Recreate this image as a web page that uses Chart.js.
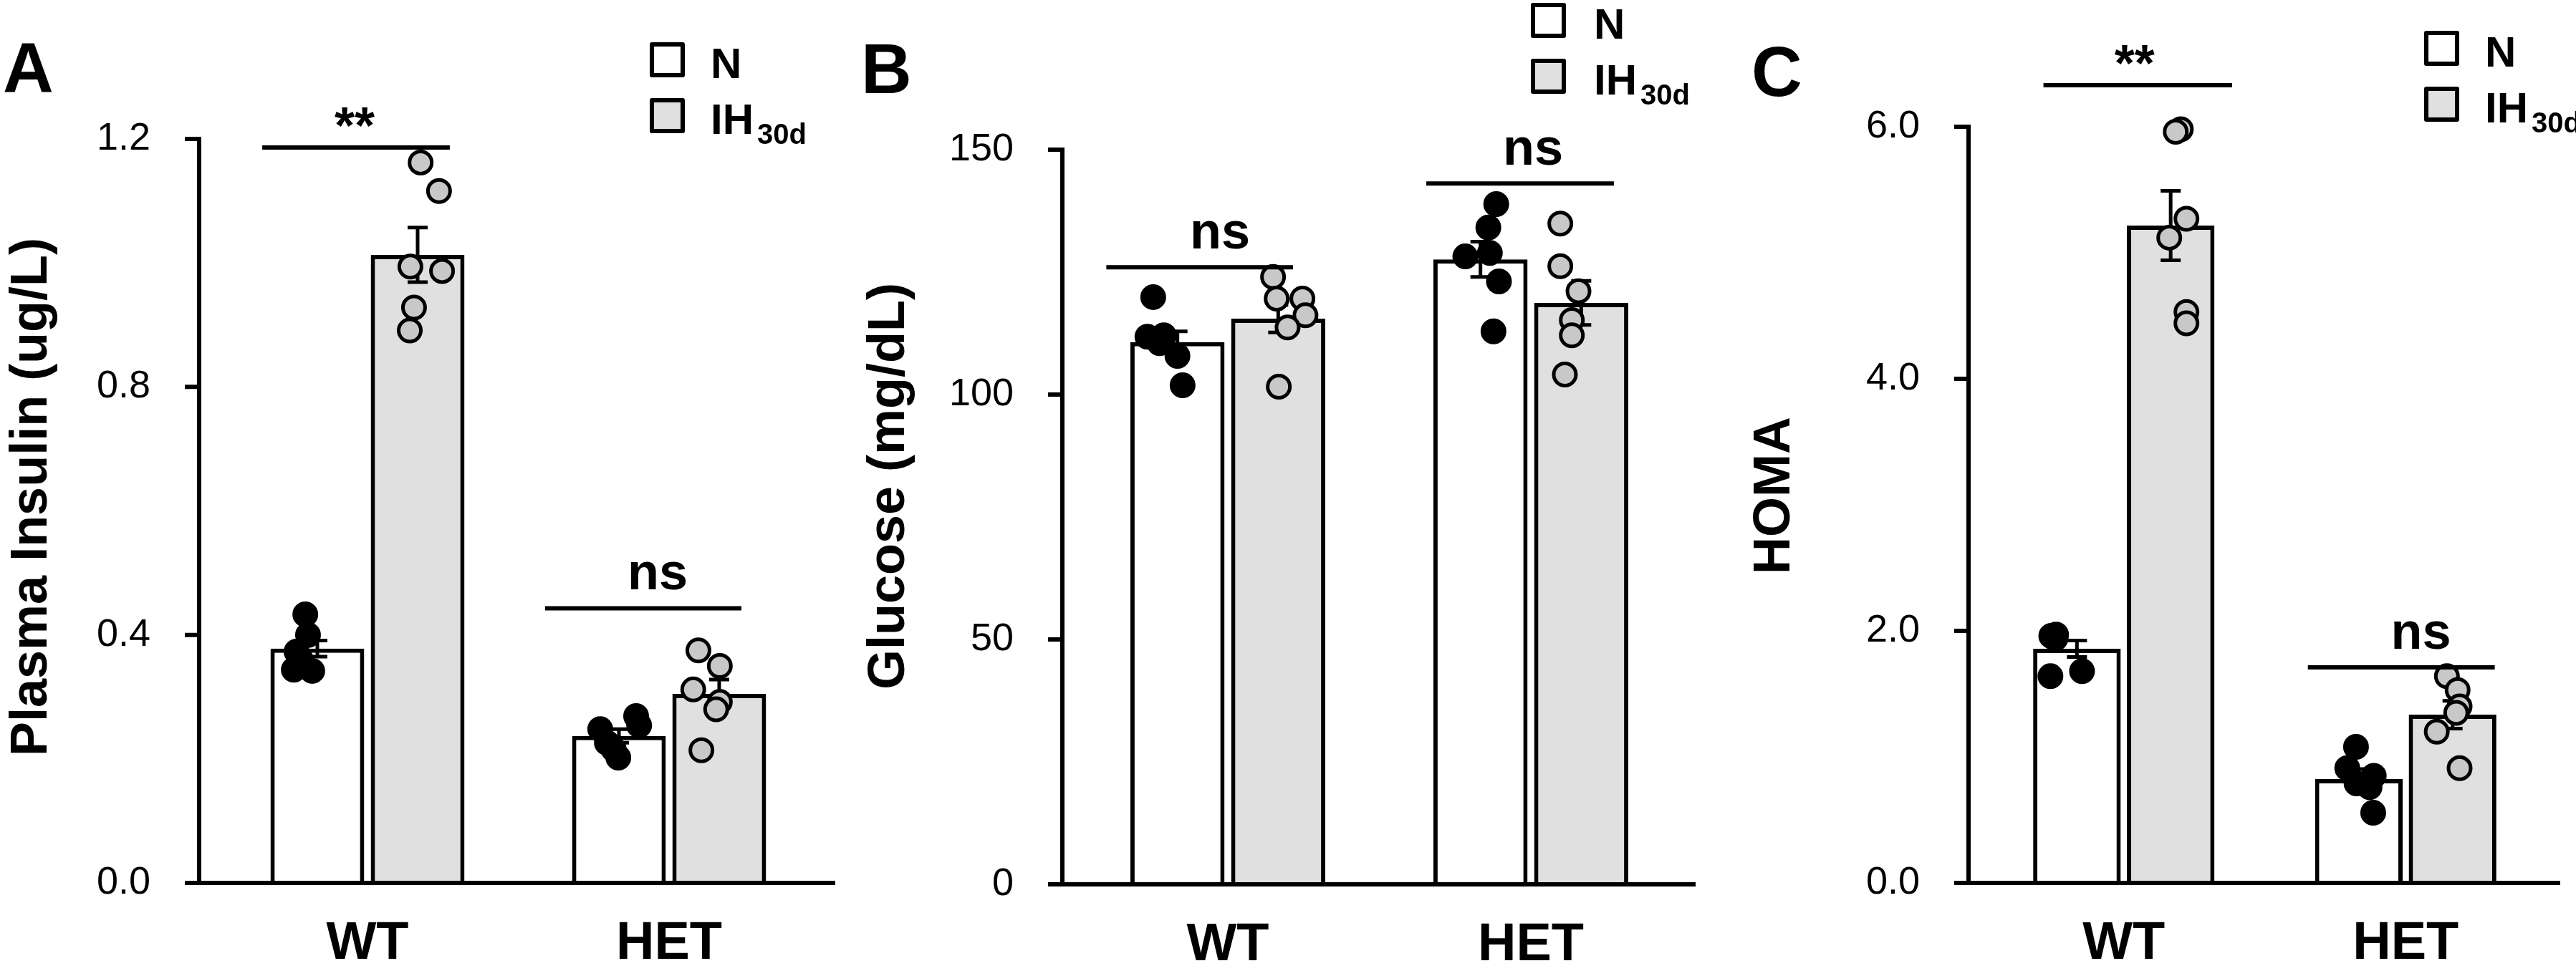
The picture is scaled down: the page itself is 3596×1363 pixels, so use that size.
<!DOCTYPE html>
<html>
<head>
<meta charset="utf-8">
<script src="https://cdn.jsdelivr.net/npm/chart.js@4.4.1/dist/chart.umd.min.js"></script>
<style>
  html, body { margin: 0; padding: 0; background: #fff; }
  #wrap { position: relative; width: 3596px; height: 1363px; background: #fff; overflow: hidden; }
  .panel { position: absolute; top: 0; height: 1363px; }
</style>
</head>
<body>
<div id="wrap">
  <div class="panel" style="left:0;width:1200px"><canvas id="chartA"></canvas></div>
  <div class="panel" style="left:1200px;width:1200px"><canvas id="chartB"></canvas></div>
  <div class="panel" style="left:2400px;width:1196px"><canvas id="chartC"></canvas></div>
</div>
<script>
const groups = ['WT', 'HET'];
const seriesNames = ['N', 'IH'];
const seriesSub = ['', '30d'];
const seriesFill = ['#ffffff', '#e0e0e0'];
const pointFill = ['#000000', '#c8c8c8'];

// A - plasma insulin (ug/L)
const insulinMeanN = [0.378, 0.237];
const insulinMeanIH = [1.013, 0.305];
const insulinSemN = [0.013, 0.011];
const insulinSemIH = [0.044, 0.023];
const insulinN = [[0.433, 0.400, 0.373, 0.344, 0.342, 0.360], [0.248, 0.269, 0.254, 0.226, 0.202, 0.215]];
const insulinIH = [[1.162, 1.116, 0.994, 0.987, 0.928, 0.891], [0.375, 0.350, 0.312, 0.292, 0.280, 0.214]];
const insulinJitN = [[-0.040, -0.031, -0.069, -0.078, -0.017, -0.055], [-0.062, 0.057, 0.067, -0.040, -0.002, -0.017]];
const insulinJitIH = [[0.010, 0.071, -0.024, 0.081, -0.012, -0.026], [-0.069, 0.002, -0.086, 0.002, -0.010, -0.059]];
const insulinTicks = [0, 0.4, 0.8, 1.2];
const insulinSig = [
  { text: '**', y: 1.186, from: -0.349, to: 0.273, at: -0.043 },
  { text: 'ns', y: 0.443, from: 0.589, to: 1.240, at: 0.962 }
];

// B - glucose (mg/dL)
const glucoseMeanN = [110.7, 127.6];
const glucoseMeanIH = [115.5, 118.7];
const glucoseSemN = [2.2, 3.6];
const glucoseSemIH = [2.8, 4.5];
const glucoseN = [[119.9, 111.8, 112.1, 107.9, 101.9, 110.5], [138.9, 134.1, 128.9, 128.2, 123.1, 112.9]];
const glucoseIH = [[124.0, 119.6, 119.6, 116.2, 113.7, 101.6], [134.9, 126.2, 121.1, 115.2, 112.1, 104.1]];
const glucoseJitN = [[-0.080, -0.099, -0.045, 0.000, 0.017, -0.059], [0.052, 0.026, 0.031, -0.050, 0.061, 0.043]];
const glucoseJitIH = [[-0.017, -0.005, 0.080, 0.090, 0.031, 0.002], [-0.069, -0.069, -0.009, -0.031, -0.031, -0.054]];
const glucoseTicks = [0, 50, 100, 150];
const glucoseSig = [
  { text: 'ns', y: 126.0, from: -0.401, to: 0.215, at: -0.026 },
  { text: 'ns', y: 143.1, from: 0.655, to: 1.274, at: 1.007 }
];

// C - HOMA
const homaMeanN = [1.858, 0.824];
const homaMeanIH = [5.216, 1.335];
const homaSemN = [0.065, 0.08];
const homaSemIH = [0.275, 0.11];
const homaN = [[1.97, 1.96, 1.95, 1.94, 1.64, 1.68], [1.08, 0.91, 0.85, 0.79, 0.557, 0.76]];
const homaIH = [[5.98, 5.96, 5.27, 5.12, 4.53, 4.44], [1.64, 1.53, 1.40, 1.35, 1.20, 0.91]];
const homaJitN = [[-0.074, -0.091, -0.084, -0.076, -0.094, 0.018], [-0.010, -0.041, 0.053, -0.008, 0.051, 0.038]];
const homaJitIH = [[0.036, 0.018, 0.056, -0.005, 0.056, 0.056], [-0.020, 0.018, 0.025, 0.013, -0.056, 0.025]];
const homaTicks = [0, 2, 4, 6];
const homaSig = [
  { text: '**', y: 6.33, from: -0.285, to: 0.384, at: 0.038 },
  { text: 'ns', y: 1.71, from: 0.653, to: 1.316, at: 1.054 }
];

const FONT = '"Liberation Sans", Arial, Helvetica, sans-serif';
const CAT_PCT = 0.665;
const BAR_PCT = 0.935;

function decor(p) {
  return {
    id: 'decor',
    afterDatasetDraw(chart, args) {
      const ds = chart.data.datasets[args.index];
      if (ds.type !== 'bar') return;
      const ys = chart.scales.y;
      const ctx = chart.ctx;
      ctx.save();
      ctx.strokeStyle = '#000';
      ctx.lineWidth = 5;
      args.meta.data.forEach((bar, j) => {
        const m = ds.data[j].y;
        const hi = ys.getPixelForValue(m + ds.sem[j]);
        const lo = ys.getPixelForValue(m - ds.sem[j]);
        ctx.beginPath();
        ctx.moveTo(bar.x, hi); ctx.lineTo(bar.x, lo);
        ctx.moveTo(bar.x - 14, hi); ctx.lineTo(bar.x + 14, hi);
        ctx.moveTo(bar.x - 14, lo); ctx.lineTo(bar.x + 14, lo);
        ctx.stroke();
      });
      ctx.restore();
    },
    afterDatasetsDraw(chart) {
      const ctx = chart.ctx;
      const ys = chart.scales.y;
      const xs = chart.scales.x2;
      const area = chart.chartArea;
      const ax = area.left - p.axisInset;
      const y0 = ys.getPixelForValue(0);
      const yTop = ys.getPixelForValue(ys.max);
      ctx.save();
      ctx.strokeStyle = '#000';
      ctx.fillStyle = '#000';
      ctx.lineWidth = 6;
      ctx.lineCap = 'butt';
      // axes
      ctx.beginPath();
      ctx.moveTo(ax, yTop - 3); ctx.lineTo(ax, y0);
      ys.ticks.forEach(t => {
        const py = ys.getPixelForValue(t.value);
        ctx.moveTo(ax - 20, py); ctx.lineTo(ax + 3, py);
      });
      ctx.moveTo(ax - 20, y0); ctx.lineTo(area.right + p.rightExt, y0);
      ctx.stroke();

      // significance bars
      p.sig.forEach(s => {
        const py = ys.getPixelForValue(s.y);
        ctx.beginPath();
        ctx.moveTo(xs.getPixelForValue(s.from), py);
        ctx.lineTo(xs.getPixelForValue(s.to), py);
        ctx.stroke();
        ctx.font = `bold 72px ${FONT}`;
        ctx.textAlign = 'center';
        ctx.textBaseline = 'alphabetic';
        ctx.fillText(s.text, xs.getPixelForValue(s.at), py - (s.text === '**' ? 6 : 26));
      });

      // legend
      ctx.lineJoin = 'round';
      seriesNames.forEach((name, k) => {
        const top = p.legTop + k * 78;
        ctx.fillStyle = seriesFill[k];
        ctx.fillRect(p.legX + 3, top + 3, 43, 43);
        ctx.strokeRect(p.legX + 3, top + 3, 43, 43);
        ctx.fillStyle = '#000';
        ctx.textAlign = 'left';
        ctx.textBaseline = 'alphabetic';
        ctx.font = `bold 60px ${FONT}`;
        ctx.fillText(name, p.legTextX, top + 50);
        if (seriesSub[k]) {
          const w = ctx.measureText(name).width;
          ctx.font = `bold 40px ${FONT}`;
          ctx.fillText(seriesSub[k], p.legTextX + w + 5, top + 64);
        }
      });

      // y title
      ctx.save();
      ctx.translate(p.titleX, p.titleY);
      ctx.rotate(-Math.PI / 2);
      ctx.textAlign = 'center';
      ctx.textBaseline = 'middle';
      ctx.font = `bold 72px ${FONT}`;
      ctx.fillText(p.title, 0, 0);
      ctx.restore();

      // panel letter
      ctx.font = `bold 98px ${FONT}`;
      ctx.textAlign = 'left';
      ctx.textBaseline = 'alphabetic';
      ctx.fillText(p.letter, p.letterX, p.letterBase);
      ctx.restore();
    }
  };
}

function makePanel(id, p) {
  const half = CAT_PCT / 4;
  const slot = k => (k === 0 ? -half : half);
  const bars = (label, means, sem, k) => ({
    type: 'bar', label, sem, order: 2, xAxisID: 'x2', yAxisID: 'y',
    data: means.map((m, gi) => ({ x: gi + slot(k), y: m })),
    backgroundColor: seriesFill[k], borderColor: '#000', borderWidth: 6,
    grouped: false, categoryPercentage: 1, barPercentage: BAR_PCT
  });
  const dots = (pts, jit, k) => ({
    type: 'scatter', xAxisID: 'x2', yAxisID: 'y', order: 1, clip: false,
    data: pts.flatMap((g, gi) => g.map((v, n) => ({ x: gi + slot(k) + jit[gi][n], y: v }))),
    pointRadius: 15.5, pointHoverRadius: 15.5, pointBorderWidth: 5,
    pointBackgroundColor: pointFill[k], pointBorderColor: '#000'
  });
  new Chart(document.getElementById(id), {
    type: 'bar',
    data: {
      labels: groups,
      datasets: [
        bars(seriesNames[0], p.meanN, p.semN, 0),
        bars(seriesNames[1], p.meanIH, p.semIH, 1),
        dots(p.ptsN, p.jitN, 0),
        dots(p.ptsIH, p.jitIH, 1)
      ]
    },
    options: {
      responsive: true,
      maintainAspectRatio: false,
      animation: false,
      events: [],
      layout: { padding: { top: p.top, right: p.padRight, bottom: 0, left: 0 } },
      plugins: { legend: { display: false }, tooltip: { enabled: false } },
      scales: {
        x: {
          type: 'category', offset: true,
          grid: { display: false, drawTicks: false }, border: { display: false },
          ticks: { color: '#000', font: { family: FONT, size: 74, weight: 'bold' }, padding: 41, maxRotation: 0 },
          afterFit: s => { s.height = 1363 - p.bottom; }
        },
        x2: {
          type: 'linear', min: -0.5, max: 1.5, offset: false, display: false,
          afterBuildTicks: s => { s.ticks = [{ value: -0.5 }, { value: 1.5 }]; }
        },
        y: {
          min: 0, max: p.ticks[p.ticks.length - 1],
          afterBuildTicks: s => { s.ticks = p.ticks.map(v => ({ value: v })); },
          grid: { display: false, drawTicks: false }, border: { display: false },
          ticks: { color: '#000', font: { family: FONT, size: 54 }, padding: p.axisInset + 68, callback: p.fmt },
          afterFit: s => { s.width = p.left; }
        }
      }
    },
    plugins: [decor(p)]
  });
}

makePanel('chartA', {
  meanN: insulinMeanN, meanIH: insulinMeanIH, semN: insulinSemN, semIH: insulinSemIH,
  ptsN: insulinN, ptsIH: insulinIH, jitN: insulinJitN, jitIH: insulinJitIH,
  ticks: insulinTicks, sig: insulinSig, fmt: v => v.toFixed(1),
  title: 'Plasma Insulin (ug/L)', letter: 'A',
  left: 302.5, padRight: 55.5, top: 194, bottom: 1233, axisInset: 24.5, rightExt: 21.5,
  titleX: 45, titleY: 694, letterX: 4, letterBase: 128,
  legX: 907, legTop: 59, legTextX: 992
});

makePanel('chartB', {
  meanN: glucoseMeanN, meanIH: glucoseMeanIH, semN: glucoseSemN, semIH: glucoseSemIH,
  ptsN: glucoseN, ptsIH: glucoseIH, jitN: glucoseJitN, jitIH: glucoseJitIH,
  ticks: glucoseTicks, sig: glucoseSig, fmt: v => String(v),
  title: 'Glucose (mg/dL)', letter: 'B',
  left: 302.5, padRight: 51.5, top: 209, bottom: 1235, axisInset: 19.5, rightExt: 18.5,
  titleX: 42, titleY: 679, letterX: 2, letterBase: 130,
  legX: 937, legTop: 4, legTextX: 1025
});

makePanel('chartC', {
  meanN: homaMeanN, meanIH: homaMeanIH, semN: homaSemN, semIH: homaSemIH,
  ptsN: homaN, ptsIH: homaIH, jitN: homaJitN, jitIH: homaJitIH,
  ticks: homaTicks, sig: homaSig, fmt: v => v.toFixed(1),
  title: 'HOMA', letter: 'C',
  left: 368, padRight: 41, top: 177, bottom: 1233, axisInset: 20, rightExt: 19,
  titleX: 78, titleY: 692, letterX: 45, letterBase: 134,
  legX: 984, legTop: 43, legTextX: 1069
});
</script>
</body>
</html>
